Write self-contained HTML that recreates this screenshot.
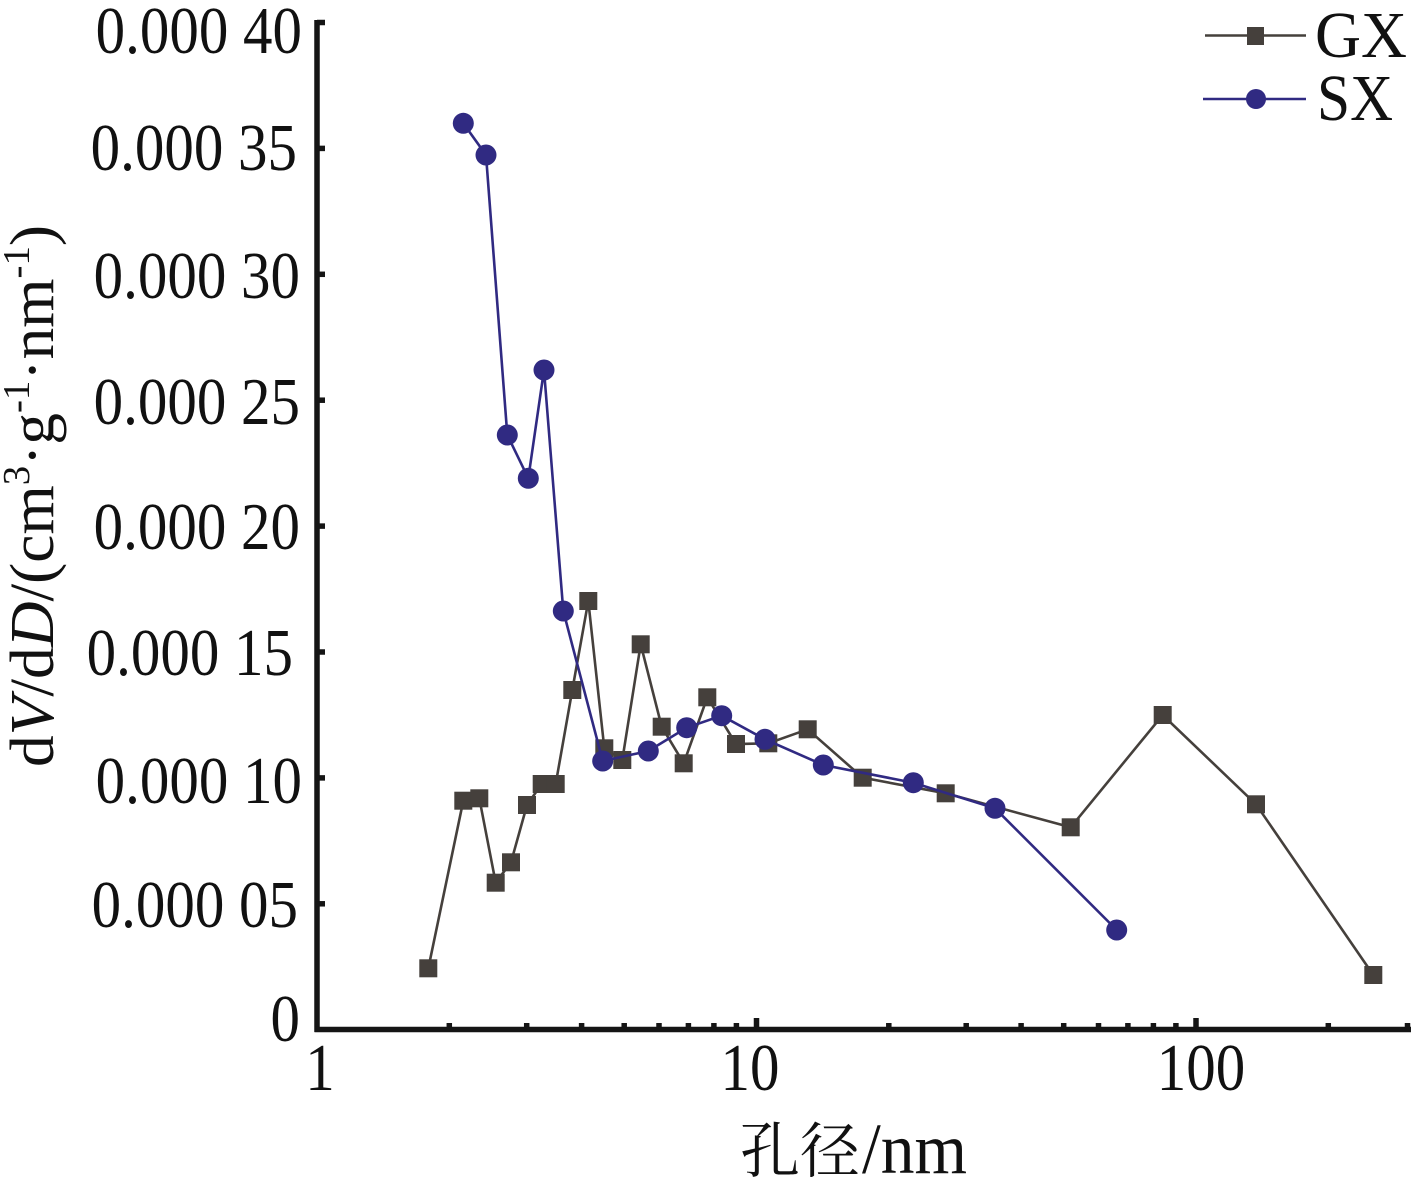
<!DOCTYPE html>
<html><head><meta charset="utf-8"><style>
html,body{margin:0;padding:0;background:#fff;}
svg{display:block;}
text{font-family:"Liberation Serif","Noto Serif CJK SC",serif;fill:#111;}
</style></head><body>
<svg width="1417" height="1181" viewBox="0 0 1417 1181" xmlns="http://www.w3.org/2000/svg">
<rect width="1417" height="1181" fill="#fff"/>
<!-- axes -->
<g stroke="#151515" stroke-width="5.5" fill="none">
<line x1="317" y1="20" x2="317" y2="1032"/>
<line x1="314.5" y1="1029.5" x2="1411" y2="1029.5"/>
<!-- y ticks -->
<line x1="317" y1="22.5" x2="325" y2="22.5"/>
<line x1="317" y1="148.4" x2="325" y2="148.4"/>
<line x1="317" y1="274.3" x2="325" y2="274.3"/>
<line x1="317" y1="400.2" x2="325" y2="400.2"/>
<line x1="317" y1="526.1" x2="325" y2="526.1"/>
<line x1="317" y1="652" x2="325" y2="652"/>
<line x1="317" y1="777.9" x2="325" y2="777.9"/>
<line x1="317" y1="903.8" x2="325" y2="903.8"/>
<!-- x major ticks -->
<line x1="756.5" y1="1029.5" x2="756.5" y2="1018"/>
<line x1="1196" y1="1029.5" x2="1196" y2="1018"/>
<!-- x minor ticks -->
<line x1="449.3" y1="1029.5" x2="449.3" y2="1023"/>
<line x1="526.7" y1="1029.5" x2="526.7" y2="1023"/>
<line x1="581.6" y1="1029.5" x2="581.6" y2="1023"/>
<line x1="624.2" y1="1029.5" x2="624.2" y2="1023"/>
<line x1="659" y1="1029.5" x2="659" y2="1023"/>
<line x1="688.4" y1="1029.5" x2="688.4" y2="1023"/>
<line x1="713.9" y1="1029.5" x2="713.9" y2="1023"/>
<line x1="736.4" y1="1029.5" x2="736.4" y2="1023"/>
<line x1="888.8" y1="1029.5" x2="888.8" y2="1023"/>
<line x1="966.2" y1="1029.5" x2="966.2" y2="1023"/>
<line x1="1021.1" y1="1029.5" x2="1021.1" y2="1023"/>
<line x1="1063.7" y1="1029.5" x2="1063.7" y2="1023"/>
<line x1="1098.5" y1="1029.5" x2="1098.5" y2="1023"/>
<line x1="1127.9" y1="1029.5" x2="1127.9" y2="1023"/>
<line x1="1153.4" y1="1029.5" x2="1153.4" y2="1023"/>
<line x1="1175.9" y1="1029.5" x2="1175.9" y2="1023"/>
<line x1="1328.3" y1="1029.5" x2="1328.3" y2="1023"/>
<line x1="1407.5" y1="1029.5" x2="1407.5" y2="1023"/>
</g>
<!-- y tick labels -->
<g font-size="67" text-anchor="end">
<text transform="translate(302,53) scale(0.88,1)">0.000 40</text>
<text transform="translate(297,170) scale(0.88,1)">0.000 35</text>
<text transform="translate(300,298) scale(0.88,1)">0.000 30</text>
<text transform="translate(300,424) scale(0.88,1)">0.000 25</text>
<text transform="translate(300,549) scale(0.88,1)">0.000 20</text>
<text transform="translate(293,675) scale(0.88,1)">0.000 15</text>
<text transform="translate(302,803) scale(0.88,1)">0.000 10</text>
<text transform="translate(298,927) scale(0.88,1)">0.000 05</text>
<text transform="translate(300,1041) scale(0.88,1)">0</text>
</g>
<!-- x tick labels -->
<g font-size="67" text-anchor="middle">
<text transform="translate(320,1090) scale(0.88,1)">1</text>
<text transform="translate(750,1090) scale(0.88,1)">10</text>
<text transform="translate(1201,1090) scale(0.88,1)">100</text>
</g>
<!-- x title -->
<text x="740" y="1172" font-size="60" font-family="'Liberation Serif','Noto Serif CJK SC',serif">孔径</text>
<text x="862" y="1173" font-size="72" textLength="105" lengthAdjust="spacingAndGlyphs">/nm</text>
<!-- y title -->
<text transform="translate(53,767) rotate(-90)" font-size="62" textLength="542" lengthAdjust="spacingAndGlyphs">d<tspan font-style="italic">V</tspan>/d<tspan font-style="italic">D</tspan>/(cm<tspan font-size="38" dy="-24">3</tspan><tspan dy="24">·g</tspan><tspan font-size="38" dy="-24">-1</tspan><tspan dy="24">·nm</tspan><tspan font-size="38" dy="-24">-1</tspan><tspan dy="24">)</tspan></text>
<!-- GX series -->
<polyline fill="none" stroke="#45403c" stroke-width="2.6" points="428.3,968.3 463.3,800.7 479.3,798.3 495.7,882.7 511,862.3 527,805 541.7,784 555.7,784 572.3,690 588.3,601 604.3,748.3 622.3,760 640.7,644.3 661.7,726.7 683.7,763.3 707.3,697.3 736,744 768.3,743.3 807.7,729.3 862.7,777.7 945.7,793.3 1070.7,827.3 1162.7,715 1256,804.3 1373.3,975"/>
<g fill="#45403c">
<rect x="419.3" y="959.3" width="18" height="18"/>
<rect x="454.3" y="791.7" width="18" height="18"/>
<rect x="470.3" y="789.3" width="18" height="18"/>
<rect x="486.7" y="873.7" width="18" height="18"/>
<rect x="502" y="853.3" width="18" height="18"/>
<rect x="518" y="796" width="18" height="18"/>
<rect x="532.7" y="775" width="18" height="18"/>
<rect x="546.7" y="775" width="18" height="18"/>
<rect x="563.3" y="681" width="18" height="18"/>
<rect x="579.3" y="592" width="18" height="18"/>
<rect x="595.3" y="739.3" width="18" height="18"/>
<rect x="613.3" y="751" width="18" height="18"/>
<rect x="631.7" y="635.3" width="18" height="18"/>
<rect x="652.7" y="717.7" width="18" height="18"/>
<rect x="674.7" y="754.3" width="18" height="18"/>
<rect x="698.3" y="688.3" width="18" height="18"/>
<rect x="727" y="735" width="18" height="18"/>
<rect x="759.3" y="734.3" width="18" height="18"/>
<rect x="798.7" y="720.3" width="18" height="18"/>
<rect x="853.7" y="768.7" width="18" height="18"/>
<rect x="936.7" y="784.3" width="18" height="18"/>
<rect x="1061.7" y="818.3" width="18" height="18"/>
<rect x="1153.7" y="706" width="18" height="18"/>
<rect x="1247" y="795.3" width="18" height="18"/>
<rect x="1364.3" y="966" width="18" height="18"/>
</g>
<!-- SX series -->
<polyline fill="none" stroke="#302a82" stroke-width="2.6" points="463.3,123.3 486,155 507.3,435 528.3,478.3 544,370 563.3,611 602.7,761 648.3,751 686.7,727.7 721.7,715.7 765,739.3 823.3,765 913.3,782.7 995,808.3 1116.7,930"/>
<g fill="#302a82">
<circle cx="463.3" cy="123.3" r="10.5"/>
<circle cx="486" cy="155" r="10.5"/>
<circle cx="507.3" cy="435" r="10.5"/>
<circle cx="528.3" cy="478.3" r="10.5"/>
<circle cx="544" cy="370" r="10.5"/>
<circle cx="563.3" cy="611" r="10.5"/>
<circle cx="602.7" cy="761" r="10.5"/>
<circle cx="648.3" cy="751" r="10.5"/>
<circle cx="686.7" cy="727.7" r="10.5"/>
<circle cx="721.7" cy="715.7" r="10.5"/>
<circle cx="765" cy="739.3" r="10.5"/>
<circle cx="823.3" cy="765" r="10.5"/>
<circle cx="913.3" cy="782.7" r="10.5"/>
<circle cx="995" cy="808.3" r="10.5"/>
<circle cx="1116.7" cy="930" r="10.5"/>
</g>
<!-- legend -->
<line x1="1205" y1="35.5" x2="1306" y2="35.5" stroke="#45403c" stroke-width="2.6"/>
<rect x="1247" y="27" width="17" height="18" fill="#45403c"/>
<line x1="1203" y1="99" x2="1306" y2="99" stroke="#302a82" stroke-width="2.6"/>
<circle cx="1256" cy="99" r="10" fill="#302a82"/>
<text x="1315" y="57" font-size="66" textLength="92" lengthAdjust="spacingAndGlyphs">GX</text>
<text x="1317" y="120" font-size="66" textLength="76" lengthAdjust="spacingAndGlyphs">SX</text>
</svg>
</body></html>
